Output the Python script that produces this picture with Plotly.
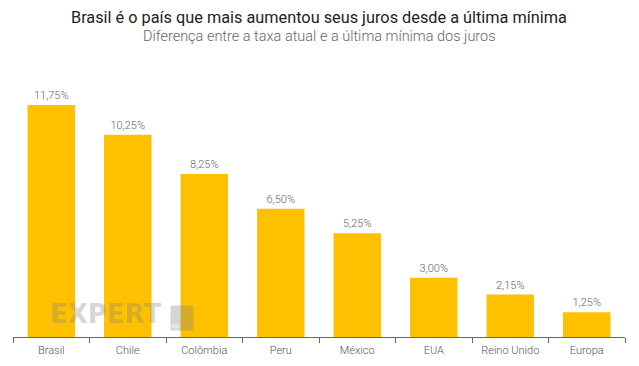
import plotly.graph_objects as go

categories = ["Brasil", "Chile", "Colômbia", "Peru", "México", "EUA", "Reino Unido", "Europa"]
values = [11.75, 10.25, 8.25, 6.50, 5.25, 3.00, 2.15, 1.25]
labels = ["11,75%", "10,25%", "8,25%", "6,50%", "5,25%", "3,00%", "2,15%", "1,25%"]

fig = go.Figure()
fig.add_trace(go.Bar(
    x=categories, y=values, text=labels, textposition="outside",
    textfont=dict(family="Roboto", size=11, color="#666666", weight=300),
    marker=dict(color="#FFC000", line=dict(width=0)),
    width=0.62, cliponaxis=False, hoverinfo="skip",
))

fig.update_layout(
    width=639, height=366,
    margin=dict(l=13, r=14, t=60, b=29),
    paper_bgcolor="white", plot_bgcolor="white",
    showlegend=False,
    font=dict(family="Roboto", color="#555555"),
    xaxis=dict(
        type="category", showgrid=False, showline=True, linecolor="#666666", linewidth=1,
        ticks="outside", tickson="boundaries", ticklen=5, tickcolor="#666666",
        tickfont=dict(family="Roboto", size=11, color="#555555", weight=300),
        ticklabelstandoff=3,
        automargin=False,
    ),
    yaxis=dict(range=[0, 14.03], visible=False, showgrid=False, zeroline=False, automargin=False),
    annotations=[
        dict(text="Brasil é o país que mais aumentou seus juros desde a última mínima",
             xref="paper", yref="paper", x=0.5, y=1, yshift=31, xanchor="center", yanchor="bottom",
             showarrow=False, font=dict(family="Roboto", size=16.3, color="#222222")),
        dict(text="Diferença entre a taxa atual e a última mínima dos juros",
             xref="paper", yref="paper", x=0.5, y=1, yshift=13, xanchor="center", yanchor="bottom",
             showarrow=False, font=dict(family="Roboto", size=14.5, color="#666666", weight=300)),
        dict(text="<b>EXPERT</b>", xref="paper", yref="paper", x=0.058, y=0.02,
             xanchor="left", yanchor="bottom", showarrow=False,
             font=dict(family="DejaVu Sans", size=26, color="rgba(128,128,128,0.33)")),
        dict(text=" ", xref="paper", yref="paper", x=0.257, y=0.02,
             xanchor="left", yanchor="bottom", showarrow=False, width=20, height=22,
             bgcolor="rgba(128,128,128,0.33)",
             font=dict(family="Roboto", size=9, color="rgba(255,255,255,0.8)")),
        dict(text="xp", xref="paper", yref="paper", x=0.276, y=0.018,
             xanchor="right", yanchor="bottom", showarrow=False,
             font=dict(family="Roboto", size=8, color="rgba(255,255,255,0.85)")),
    ],
)

fig.write_html("out.html", config={"displayModeBar": False},
               post_script="document.body.style.margin='0';")
